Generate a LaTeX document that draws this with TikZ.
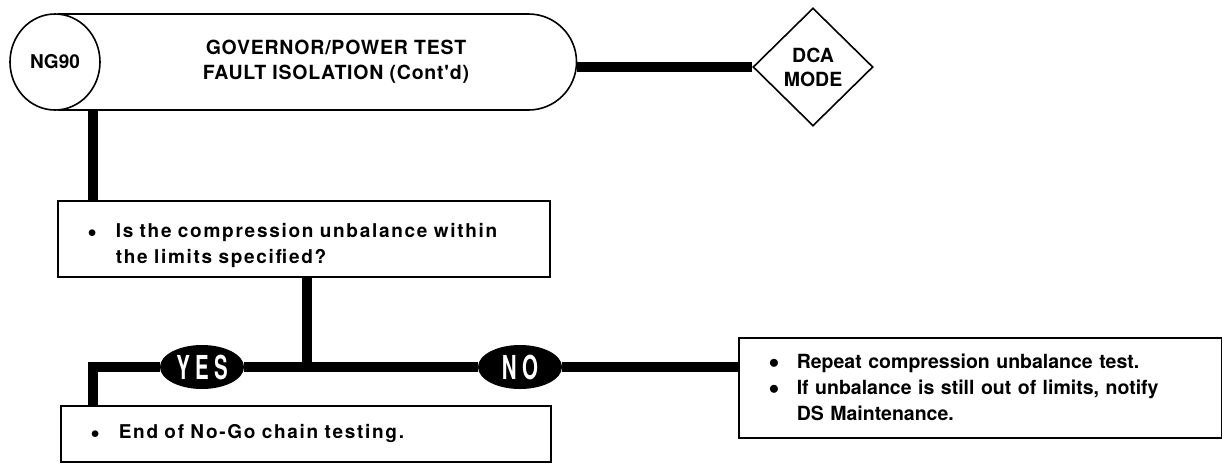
\documentclass[tikz,border=0pt]{standalone}
\usepackage{fontspec}
\setmainfont{TeX Gyre Heros}
\newfontfamily\widefont{TeX Gyre Heros}[LetterSpace=9,WordSpace=2.3]
\newfontfamily\headfont{TeX Gyre Heros}[LetterSpace=4]
\newfontfamily\tagfont{TeX Gyre Heros}[FakeStretch=0.62,LetterSpace=16]
\usetikzlibrary{positioning,shapes.geometric,shapes.misc}

\newcommand{\itm}{\makebox[28pt][l]{\raisebox{0.5pt}{$\bullet$}}}

\begin{document}
\begin{tikzpicture}[x=1pt,y=-1pt,
  txt/.style={font=\fontsize{19.5}{26}\selectfont\bfseries},
  rim/.style={draw,line width=1.6pt},
  box/.style={rim,align=left,inner xsep=30pt,anchor=north west,txt},
  flow/.style={line width=9.5pt},
  tag/.style={ellipse,fill=black,text=white,inner sep=0pt,minimum width=84pt,minimum height=44pt,font=\tagfont\fontsize{33}{33}\selectfont\bfseries}]
\useasboundingbox (0,0) rectangle (1222,464);
\node[rim,rounded rectangle,rounded rectangle left arc=none,minimum width=518,minimum height=96,inner sep=0pt,font=\headfont\fontsize{19.5}{25}\selectfont\bfseries] (title) at (314,62)
  {\hspace*{44pt}\begin{tabular}{@{}c@{}}GOVERNOR/POWER TEST\\FAULT ISOLATION (Cont'd)\end{tabular}};
\node[rim,ellipse,fill=white,minimum width=90,minimum height=96,inner sep=0pt,font=\fontsize{19}{22}\selectfont\bfseries] (code) at (55,62) {NG90};
\node[rim,diamond,minimum width=120,minimum height=118,inner sep=0pt,align=center,font=\fontsize{19.5}{24}\selectfont\bfseries] (mode) at (813,67) {DCA\\MODE};
\node[box,minimum height=76,text width=432,text depth=16pt,font=\widefont\fontsize{19}{26}\selectfont\bfseries] (ask) at (57,200)
  {\itm Is the compression unbalance within\\\hspace*{28pt}the limits specified?};
\coordinate (drop) at ([xshift=38pt]code.south);
\coordinate (split) at (307,367);
\node[tag] (yes) at (202,367) {YES};
\node[tag] (no) at (520,367) {NO};
\node[box,minimum height=56,text width=430,font=\widefont\fontsize{19}{26}\selectfont\bfseries] (done) at (60,405)
  {\itm End of No-Go chain testing.};
\node[box,minimum height=100,text width=423] (fix) at (738,337)
  {\itm Repeat compression unbalance test.\\\itm If unbalance is still out of limits, notify\\\hspace*{28pt}DS Maintenance.};
\draw[flow] (mode.west -| title.east) -- (mode.west);
\draw[flow] (drop) -- (drop |- ask.north);
\draw[flow] (ask.south -| split) -- (split) -- (yes);
\draw[flow] (yes) -| ([xshift=33pt]done.north west);
\draw[flow] (split) -- (no);
\draw[flow] (no) -- (fix.west |- no);
\end{tikzpicture}
\end{document}
